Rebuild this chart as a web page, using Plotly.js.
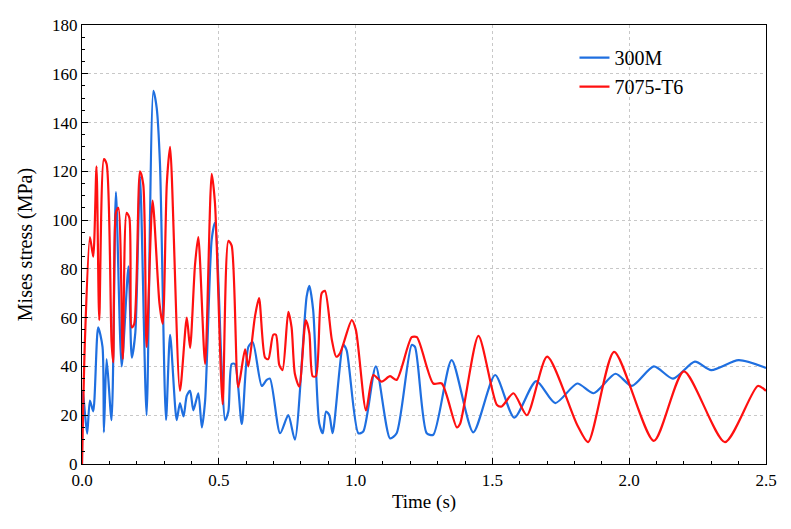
<!DOCTYPE html><html><head><script src="https://cdn.plot.ly/plotly-3.0.1.min.js"></script></head><body style="margin:0"><div id="c" style="width:791px;height:529px"></div><script>
const tBlue=[0,.003,.011,.019,.029,.041,.059,.075,.08,.09,.108,.124,.145,.17,.182,.195,.212,.236,.261,.273,.285,.307,.322,.346,.358,.371,.383,.395,.407,.425,.438,.45,.474,.486,.511,.523,.535,.547,.559,.584,.608,.624,.657,.675,.687,.724,.754,.778,.821,.831,.845,.867,.88,.892,.904,.916,.955,.967,1.01,1.028,1.074,1.126,1.15,1.205,1.217,1.26,1.284,1.351,1.43,1.51,1.58,1.66,1.73,1.81,1.87,1.95,2.01,2.09,2.16,2.24,2.30,2.40,2.5];
const vBlue=[0,30,20.5,12.4,26,21.6,56,48,13,43,18,111.5,40,81,43.6,54,118,20,153,146,123,18,53,18,25,19.5,28,30,22,29,15,26,92,99,38,18,21.6,41,41,16.4,48,50,32,34.5,35,12.6,20,10,68.6,73,63,16.7,12.6,21.5,20,12.6,48.8,46.7,12.6,13.3,40,10.5,12.6,48.8,48,12.6,12,42.6,13,36.5,19,34,25,33,29,37,32,40,35,42,38.5,42.6,39.4];
const tRed=[0,.011,.029,.041,.053,.063,.08,.09,.108,.114,.124,.133,.149,.163,.173,.182,.191,.212,.224,.236,.258,.283,.295,.31,.322,.358,.383,.395,.413,.425,.45,.474,.486,.514,.535,.547,.571,.596,.608,.632,.647,.669,.681,.699,.709,.721,.733,.754,.766,.778,.794,.818,.831,.843,.855,.876,.888,.913,.929,.943,.986,1.001,1.038,1.065,1.095,1.126,1.15,1.205,1.224,1.284,1.315,1.37,1.382,1.449,1.516,1.534,1.577,1.626,1.70,1.81,1.85,1.945,2.09,2.2,2.35,2.47,2.5];
const vRed=[0,51.6,93,85,122,59,125,123,50,41.7,103,105,43,103,101,56,57.5,120,114.5,48,108,66,57.5,115,130,30,60,47.6,81.6,93,41,119,107,24.5,91.5,89.5,31.5,47,40,60.4,68,43.6,43,53,53,40.6,38.5,62.4,56,37,31.7,59,53.6,36,36,70,71,51,44,45.4,59,55,22,36.5,33.8,36,34.5,52,52,33,33,15,16.5,52.5,24.3,23.6,29,20,44,16,9,46,9.5,38,9,32,30];
const F={family:'"Liberation Serif", "Times New Roman", serif',size:17,color:'#000'};
const ax={showline:true,linecolor:'#000',linewidth:1.3,mirror:true,ticks:'inside',ticklen:6,tickcolor:'#000',
 showgrid:true,gridcolor:'#c8c8c8',griddash:'dot',zeroline:false,tickfont:F,minor:{ticks:'inside',ticklen:3,tickcolor:'#000',showgrid:false}};
Plotly.newPlot('c',[
 {x:tBlue,y:vBlue,mode:'lines',name:'300M',line:{color:'#1f6fe0',width:2.2,shape:'spline',smoothing:0.7}},
 {x:tRed,y:vRed,mode:'lines',name:'7075-T6',line:{color:'#ff1010',width:2.2,shape:'spline',smoothing:0.7}}],
 {width:791,height:529,margin:{l:82,r:25,t:25,b:65},paper_bgcolor:'#fff',plot_bgcolor:'#fff',font:F,
  xaxis:Object.assign({},ax,{range:[0,2.5],dtick:0.5,tickformat:'.1f',title:{text:'Time (s)',font:{family:F.family,size:19,color:'#000'},standoff:6}}),
  yaxis:Object.assign({},ax,{range:[0,180],dtick:20,title:{text:'Mises stress (MPa)',font:{family:F.family,size:20,color:'#000'}}}),
  legend:{x:0.72,y:0.97,xanchor:'left',yanchor:'top',bgcolor:'rgba(0,0,0,0)',font:{family:F.family,size:20,color:'#000'}},showlegend:true},{displayModeBar:false});
</script></body></html>
